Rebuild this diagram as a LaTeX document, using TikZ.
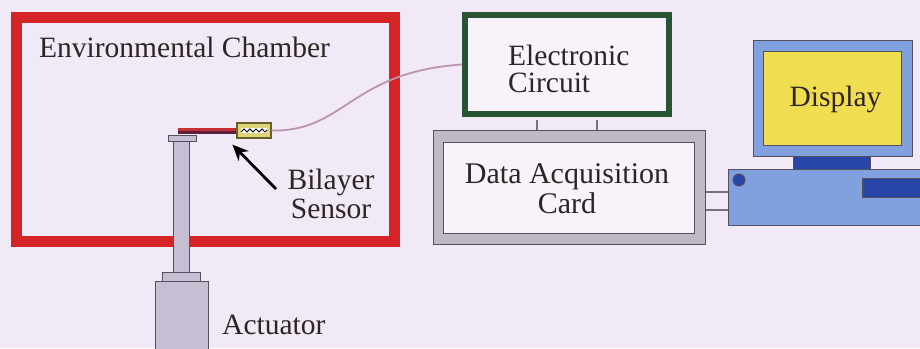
\documentclass[tikz,border=0pt]{standalone}
\usepackage{fontspec}
\setmainfont{Liberation Serif}
\usetikzlibrary{arrows.meta,calc}

\definecolor{bgcol}{RGB}{241,233,246}
\definecolor{boxfill}{RGB}{248,242,250}
\definecolor{chamberred}{RGB}{212,36,38}
\definecolor{circgreen}{RGB}{40,84,52}
\definecolor{metal}{RGB}{198,190,210}
\definecolor{metaledge}{RGB}{85,80,92}
\definecolor{daqgray}{RGB}{192,184,198}
\definecolor{wirecol}{RGB}{186,150,172}
\definecolor{txtcol}{RGB}{45,36,36}
\definecolor{pcblue}{RGB}{128,160,222}
\definecolor{pcdark}{RGB}{40,70,168}
\definecolor{screenyellow}{RGB}{240,222,80}
\definecolor{sensorfill}{RGB}{222,212,120}
\definecolor{sensoredge}{RGB}{105,95,40}
\definecolor{barred}{RGB}{196,48,52}
\definecolor{bardark}{RGB}{92,32,62}

\tikzset{
  lbl/.style={font=\fontsize{29.5}{29.5}\selectfont, text=txtcol, inner sep=0pt},
  part/.style={draw=metaledge, line width=1pt, fill=metal},
  link/.style={draw=metaledge!80, line width=1.4pt},
  pc/.style={draw=metaledge, line width=1pt},
}

\begin{document}
\begin{tikzpicture}[x=1pt,y=-1pt]
  % canvas
  \fill[bgcol] (0,0) rectangle (920,348);
  \useasboundingbox (0,0) rectangle (920,348);

  % environmental chamber
  \node[draw=chamberred, line width=11pt, minimum width=378pt, minimum height=223.5pt,
        inner sep=0pt] (chamber) at (205,129.25) {};
  \node[lbl, anchor=base west] (chamberlbl) at (39,57.7) {Environmental Chamber};

  % actuator with rod, collar and cap
  \node[part, inner sep=0pt, minimum width=53pt, minimum height=75pt] (actbody) at (181.5,318.5) {};
  \node[part, inner sep=0pt, minimum width=38pt, minimum height=9pt] (collar) at (181,276.5) {};
  \node[part, inner sep=0pt, minimum width=16pt, minimum height=134pt] (rod) at (181,205) {};
  \node[part, inner sep=0pt, minimum width=28pt, minimum height=6pt] (cap) at (182,138) {};
  \node[lbl, anchor=base west] (actlbl) at (222,334) {Actuator};

  % bilayer strip and sensor element
  \fill[barred] (178,128) rectangle (237,131);
  \fill[bardark] (178,131) rectangle (237,134);
  \node[draw=sensoredge, fill=sensorfill, line width=1.2pt, inner sep=0pt,
        minimum width=34pt, minimum height=15pt] (sensor) at (254,130.5) {};
  \fill[white] (241,128) rectangle (267,133);
  \draw[black, line width=0.9pt]
    (241,132) -- (244,129) -- (247,132) -- (250,129) -- (253,132) -- (256,129)
    -- (259,132) -- (262,129) -- (265,132) -- (267,130);

  % multi-line labels sit on the baseline of their last line
  \node[lbl, font=\fontsize{29.5}{29}\selectfont, align=center, anchor=base] (sensorlbl)
    at (331,218) {Bilayer\\Sensor};
  \coordinate (arrtail) at (276,189);
  \draw[line width=2.8pt, -{Stealth[length=16pt,width=14pt]}] (arrtail) -- ($(sensor.south west)+(-4,6)$);

  % electronic circuit
  \node[draw=circgreen, fill=boxfill, line width=6pt, inner sep=0pt,
        minimum width=204pt, minimum height=99pt] (circuit) at (567,64.5) {};
  \node[lbl, font=\fontsize{29.5}{27}\selectfont, align=left, anchor=base west] (circuitlbl)
    at (508,92) {Electronic\\Circuit};

  % wire from sensor to circuit
  \draw[wirecol, line width=1.8pt] (sensor.east) .. controls (345,132) and (350,72) .. (circuit.west);

  % data acquisition card
  \node[draw=metaledge, fill=daqgray, line width=1pt, inner sep=0pt,
        minimum width=272pt, minimum height=114pt] (daq) at (569,187) {};
  \node[draw=metaledge, fill=boxfill, line width=1pt, inner sep=0pt,
        minimum width=251pt, minimum height=91pt] (daqin) at (568.5,187.5) {};
  \node[lbl, font=\fontsize{30}{30}\selectfont, align=center, anchor=base] (daqlbl)
    at (567,213) {Data Acquisition\\Card};

  % two leads between circuit and card
  \coordinate (leadA) at ($(circuit.south)+(-30,3)$);
  \coordinate (leadB) at ($(circuit.south)+(30,3)$);
  \draw[link] (leadA) -- (leadA |- daq.north);
  \draw[link] (leadB) -- (leadB |- daq.north);

  % computer
  \node[pc, fill=pcblue, inner sep=0pt, minimum width=159pt, minimum height=116pt] (monitor) at (832.5,98) {};
  \node[pc, fill=screenyellow, inner sep=0pt, minimum width=138pt, minimum height=94pt] (screen) at (832,98) {};
  \node[lbl, anchor=base] (displaylbl) at (835.5,106) {Display};
  \node[pc, fill=pcdark, inner sep=0pt, minimum width=77pt, minimum height=13pt] (stand) at (831.5,162.5) {};
  \node[pc, fill=pcblue, inner sep=0pt, minimum width=204pt, minimum height=56pt] (base) at (830,197) {};
  \node[pc, fill=pcdark, circle, inner sep=0pt, minimum size=12pt] (button) at (739,180) {};
  \node[pc, fill=pcdark, inner sep=0pt, minimum width=70pt, minimum height=19pt] (slot) at (897,187.5) {};

  \draw[link] ($(daq.east)+(0,5)$) -- ($(base.west)+(0,-5)$);
  \draw[link] ($(daq.east)+(0,23)$) -- ($(base.west)+(0,13)$);
\end{tikzpicture}
\end{document}
